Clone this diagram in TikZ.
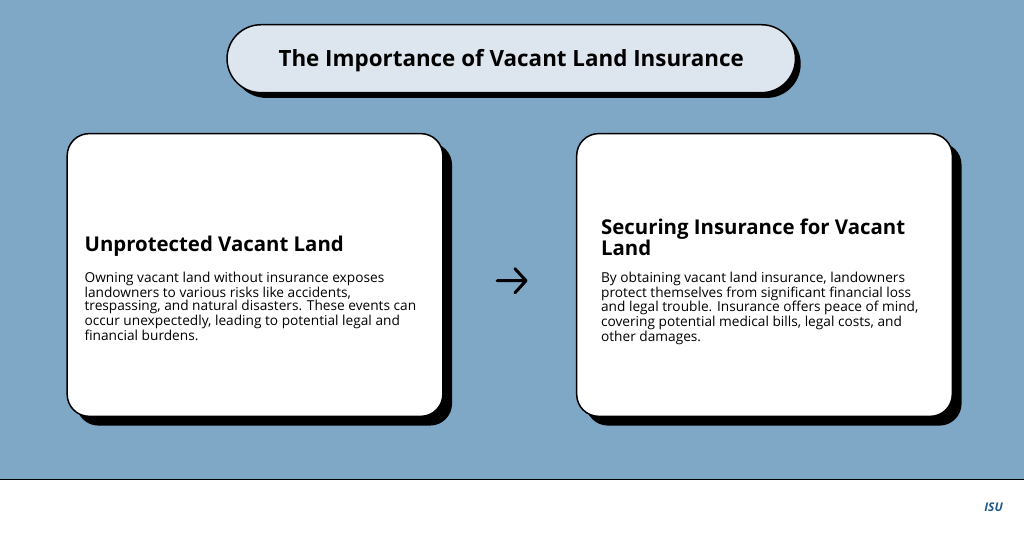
\documentclass[tikz,border=0pt]{standalone}
\usepackage{fontspec}
\setmainfont{Open Sans}
\begin{document}
\begin{tikzpicture}[x=1pt,y=-1pt,
  card/.style={draw=black,line width=1.5pt,fill=white,rounded corners=22pt},
  shadowbox/.style={fill=black,rounded corners=22pt},
  head/.style={anchor=north west,align=left,font=\fontsize{20.4}{20.5}\selectfont\bfseries,inner sep=0},
  body/.style={anchor=north west,align=left,font=\fontsize{13.7}{13.6}\selectfont,inner sep=0}]
\fill[white] (0,0) rectangle (1024,538);
\fill[fill={rgb,255:red,127;green,167;blue,198}] (0,0) rectangle (1024,480);
\draw[line width=1pt] (0,480) -- (1024,480);
% title
\fill[rounded corners=34pt] (232,30) rectangle (801,98);
\node[draw,line width=1.5pt,fill={rgb,255:red,221;green,230;blue,238},rounded corners=34pt,minimum width=569pt,minimum height=68pt,anchor=north west,font=\fontsize{22.4}{24}\selectfont\bfseries,text depth=2pt] (title) at (226,24) {The Importance of Vacant Land Insurance};
% left
\fill[shadowbox] (76,143) rectangle (452,426);
\node[card,minimum width=376pt,minimum height=283pt,anchor=north west] (left) at (66,133) {};
\node[head] (lh) at (84,236) {Unprotected Vacant Land};
\node[body] (lb) at (84,272) {Owning vacant land without insurance exposes\\landowners to various risks like accidents,\\trespassing, and natural disasters. These events can\\occur unexpectedly, leading to potential legal and\\financial burdens.};
% right
\fill[shadowbox] (586,143) rectangle (962,426);
\node[card,minimum width=376pt,minimum height=283pt,anchor=north west] (right) at (576,133) {};
\node[head] (rh) at (601,219) {Securing Insurance for Vacant\\Land};
\node[body] (rb) at (601,272) {By obtaining vacant land insurance, landowners\\protect themselves from significant financial loss\\and legal trouble. Insurance offers peace of mind,\\covering potential medical bills, legal costs, and\\other damages.};
% arrow
\coordinate (a1) at (497,281);
\coordinate (a2) at (526,281);
\draw[line width=3pt,line cap=round,line join=round] (a1) -- (a2) (515,269) -- (a2) -- (515,293);
% logo
\node[font=\fontsize{12}{12}\selectfont\bfseries\itshape,text={rgb,255:red,30;green,90;blue,140}] (logo) at (994,508) {ISU};
\end{tikzpicture}
\end{document}
